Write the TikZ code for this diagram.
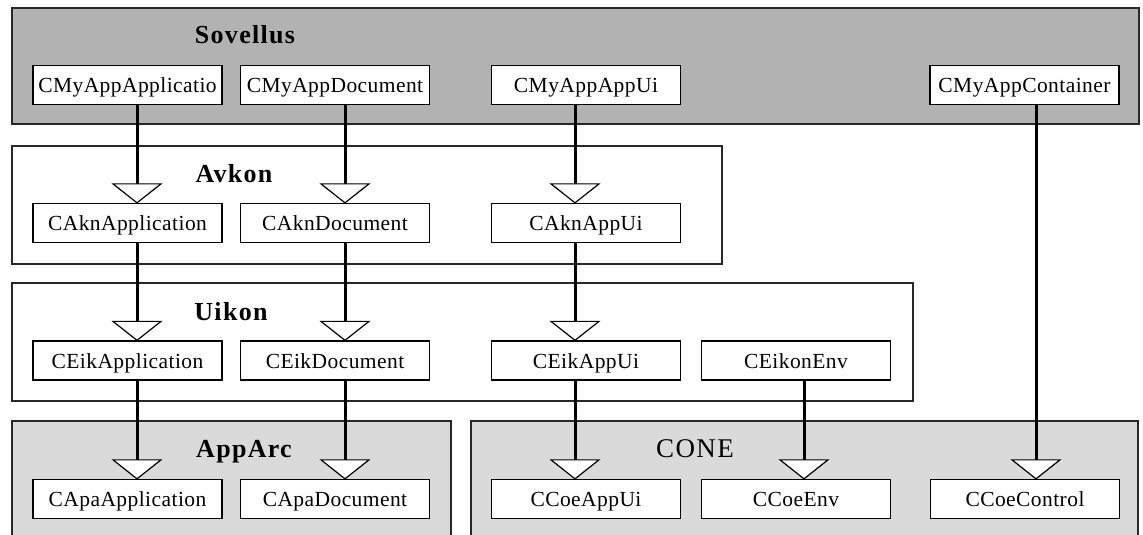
\documentclass[tikz,border=0pt]{standalone}
\usepackage{fontspec}
\setmainfont{Liberation Serif}
\newfontfamily\titlefont[LetterSpace=5]{Liberation Serif}
\newfontfamily\classfont[LetterSpace=2]{Liberation Serif}
\usetikzlibrary{calc}
\definecolor{layerdark}{RGB}{178,178,178}
\definecolor{layerlight}{RGB}{218,218,218}
\definecolor{edge}{RGB}{40,40,40}

% generalisation link: thick line ending in a hollow triangle on the base class
\newcommand\genlink[3]{%
  \draw[conn] (#1.south -| #3) -- ($(#2.north -| #3)+(0,-19)$);
  \pic at (#2.north -| #3) {gen};}

\begin{document}
\begin{tikzpicture}[x=1pt,y=-1pt,
  layer/.style={draw=edge, line width=1.4pt},
  title/.style={anchor=base, font=\titlefont\fontsize{26}{30}\selectfont\bfseries},
  cls/.style={draw, line width=1.3pt, fill=white, minimum width=189pt,
    minimum height=39pt, inner sep=0pt, text height=15pt, text depth=0pt,
    font=\classfont\fontsize{21.5}{24}\selectfont},
  conn/.style={line width=3pt},
  gen/.pic={\draw[fill=white, line width=1.2pt, line join=miter]
    (0,0) -- (-24,-19) -- (24,-19) -- cycle;}]

\useasboundingbox (0,0) rectangle (1143,535);
\clip (0,0) rectangle (1143,535);
\fill[white] (0,0) rectangle (1143,535);

% layers
\draw[layer, fill=layerdark]  (12,8)    rectangle (1139,124);
\draw[layer, fill=white]      (12,146)  rectangle (722,264);
\draw[layer, fill=white]      (12,283)  rectangle (913,401);
\draw[layer, fill=layerlight] (12,421)  rectangle (451,550);
\draw[layer, fill=layerlight] (471,421) rectangle (1138,550);

% layer titles
\node[title] (tSov) at (245,44) {Sovellus};
\node[title] (tAvk) at (234,182) {Avkon};
\node[title] (tUik) at (231,320) {Uikon};
\node[title] (tApa) at (244,457) {AppArc};
\node[title, font=\titlefont\fontsize{27}{30}\selectfont] (tCone) at (695,457) {CONE};

% column positions of the inheritance lines
\coordinate (colA) at (137,0);
\coordinate (colD) at (345,0);
\coordinate (colU) at (575,0);
\coordinate (colE) at (804,0);
\coordinate (colC) at (1036,0);

% classes
\node[cls] (myApp)  at (127.5,85) {CMyAppApplicatio};
\node[cls] (myDoc)  at (335,85)   {CMyAppDocument};
\node[cls] (myUi)   at (586,85)   {CMyAppAppUi};
\node[cls] (myCont) at (1024.5,85) {CMyAppContainer};

\node[cls] (aknApp) at (127.5,223) {CAknApplication};
\node[cls] (aknDoc) at (335,223)   {CAknDocument};
\node[cls] (aknUi)  at (586,223)   {CAknAppUi};

\node[cls] (eikApp) at (127.5,360.5) {CEikApplication};
\node[cls] (eikDoc) at (335,360.5)   {CEikDocument};
\node[cls] (eikUi)  at (586,360.5)   {CEikAppUi};
\node[cls] (eikEnv) at (796,360.5)   {CEikonEnv};

\node[cls] (apaApp) at (127.5,499) {CApaApplication};
\node[cls] (apaDoc) at (335,499)   {CApaDocument};
\node[cls] (coeUi)  at (586,499)   {CCoeAppUi};
\node[cls] (coeEnv) at (796,499)   {CCoeEnv};
\node[cls] (coeCtl) at (1025,499)  {CCoeControl};

% inheritance
\genlink{myApp}{aknApp}{colA}
\genlink{myDoc}{aknDoc}{colD}
\genlink{myUi}{aknUi}{colU}
\genlink{myCont}{coeCtl}{colC}
\genlink{aknApp}{eikApp}{colA}
\genlink{aknDoc}{eikDoc}{colD}
\genlink{aknUi}{eikUi}{colU}
\genlink{eikApp}{apaApp}{colA}
\genlink{eikDoc}{apaDoc}{colD}
\genlink{eikUi}{coeUi}{colU}
\genlink{eikEnv}{coeEnv}{colE}

\end{tikzpicture}
\end{document}
